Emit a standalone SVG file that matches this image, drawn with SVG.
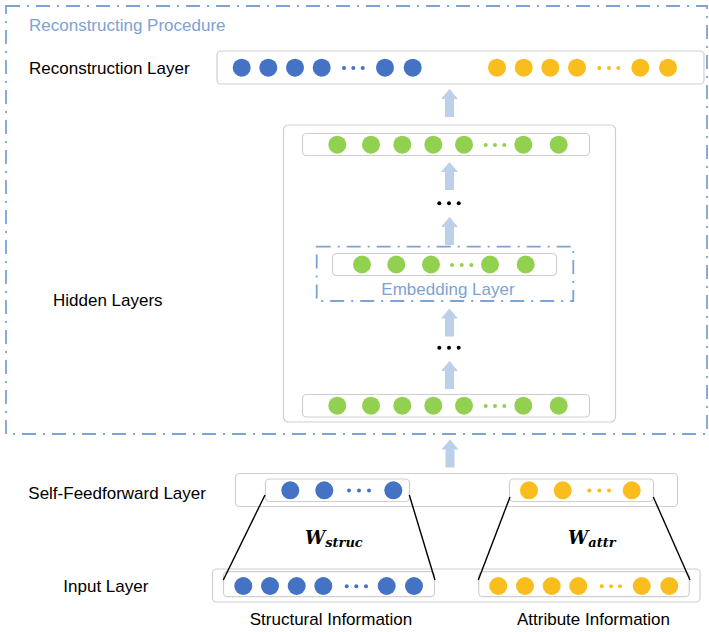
<svg xmlns="http://www.w3.org/2000/svg" width="709" height="632" viewBox="0 0 709 632">
<style>
.lbl{font-family:"Liberation Sans",Arial,sans-serif;font-size:17px;fill:#000}
.blue-t{fill:#7DA2D4}
.box{fill:#fff;stroke:#CFCFCF;stroke-width:1.2}
.dash{fill:none;stroke:#7DA2D4;stroke-width:1.8;stroke-dasharray:14 7 2 7}
.b{fill:#4472C4}
.y{fill:#F9BE1E}
.g{fill:#92D050}
.k{fill:#000}
.arr{fill:#BCD0EA}
.ln{stroke:#000;stroke-width:1.4;fill:none}
.w{font-family:"DejaVu Serif","Liberation Serif",serif;font-weight:bold;font-style:italic;fill:#000}
</style>
<defs>
<path id="arrow" d="M-8.5,10 L0,0 L8.5,10 L4.5,10 L4.5,28 L-4.5,28 L-4.5,10 Z"/>
</defs>

<g id="reconstructing-procedure">
<rect class="dash" x="6" y="6" width="701" height="428"/>
<text class="lbl blue-t" x="29" y="31">Reconstructing Procedure</text>
</g>

<g id="reconstruction-layer">
<text class="lbl" x="29" y="74">Reconstruction Layer</text>
<rect class="box" x="217" y="51" width="487" height="33" rx="4"/>
<circle class="b" cx="241.7" cy="67.7" r="9"/><circle class="b" cx="268.3" cy="67.7" r="9"/><circle class="b" cx="295" cy="67.7" r="9"/><circle class="b" cx="321.7" cy="67.7" r="9"/>
<circle class="b" cx="344" cy="68" r="2"/><circle class="b" cx="353.3" cy="68" r="2"/><circle class="b" cx="362.7" cy="68" r="2"/>
<circle class="b" cx="385" cy="67.7" r="9"/><circle class="b" cx="412.7" cy="67.7" r="9"/>
<circle class="y" cx="497" cy="67.7" r="9"/><circle class="y" cx="523.7" cy="67.7" r="9"/><circle class="y" cx="550.3" cy="67.7" r="9"/><circle class="y" cx="577" cy="67.7" r="9"/>
<circle class="y" cx="599.3" cy="68" r="2"/><circle class="y" cx="609" cy="68" r="2"/><circle class="y" cx="618.3" cy="68" r="2"/>
<circle class="y" cx="640.3" cy="67.7" r="9"/><circle class="y" cx="668" cy="67.7" r="9"/>
</g>

<g id="hidden-layers">
<text class="lbl" x="53" y="306">Hidden Layers</text>
<rect class="box" x="283.5" y="125" width="332" height="297" rx="5"/>
</g>

<g id="hidden-top">
<rect class="box" x="302.5" y="133.5" width="287" height="22" rx="4"/>
<circle class="g" cx="337.3" cy="144.7" r="9"/><circle class="g" cx="371" cy="144.7" r="9"/><circle class="g" cx="402.3" cy="144.7" r="9"/><circle class="g" cx="433.3" cy="144.7" r="9"/><circle class="g" cx="464" cy="144.7" r="9"/>
<circle class="g" cx="485.7" cy="145" r="2"/><circle class="g" cx="495" cy="145" r="2"/><circle class="g" cx="504.3" cy="145" r="2"/>
<circle class="g" cx="523.3" cy="144.7" r="9"/><circle class="g" cx="558.7" cy="144.7" r="9"/>
</g>

<g id="embedding-layer">
<rect class="dash" x="316.7" y="246.7" width="256.6" height="54.3"/>
<rect class="box" x="332.5" y="253.5" width="224" height="22" rx="4"/>
<circle class="g" cx="362" cy="264.5" r="9"/><circle class="g" cx="396.3" cy="264.5" r="9"/><circle class="g" cx="431" cy="264.5" r="9"/>
<circle class="g" cx="452" cy="265" r="2"/><circle class="g" cx="461.7" cy="265" r="2"/><circle class="g" cx="471.3" cy="265" r="2"/>
<circle class="g" cx="490" cy="264.5" r="9"/><circle class="g" cx="525.7" cy="264.5" r="9"/>
<text class="lbl blue-t" x="448" y="295" text-anchor="middle">Embedding Layer</text>
</g>

<g id="hidden-bottom">
<rect class="box" x="302.5" y="394.5" width="287" height="22.5" rx="4"/>
<circle class="g" cx="337.3" cy="405.7" r="9"/><circle class="g" cx="371" cy="405.7" r="9"/><circle class="g" cx="402.3" cy="405.7" r="9"/><circle class="g" cx="433.3" cy="405.7" r="9"/><circle class="g" cx="464" cy="405.7" r="9"/>
<circle class="g" cx="485.7" cy="406" r="2"/><circle class="g" cx="495" cy="406" r="2"/><circle class="g" cx="504.3" cy="406" r="2"/>
<circle class="g" cx="523.3" cy="405.7" r="9"/><circle class="g" cx="558.7" cy="405.7" r="9"/>
</g>

<g id="ellipses">
<circle class="k" cx="439.3" cy="203.3" r="2"/><circle class="k" cx="449" cy="203.3" r="2"/><circle class="k" cx="458.7" cy="203.3" r="2"/>
<circle class="k" cx="439.3" cy="347.7" r="2"/><circle class="k" cx="449" cy="347.7" r="2"/><circle class="k" cx="458.7" cy="347.7" r="2"/>
</g>

<g id="self-feedforward-layer">
<text class="lbl" x="28.3" y="498.5">Self-Feedforward Layer</text>
<rect class="box" x="235.5" y="473.5" width="442" height="33" rx="4"/>
<rect class="box" x="265.5" y="479" width="144" height="22.5" rx="4"/>
<circle class="b" cx="290.3" cy="490.3" r="9"/><circle class="b" cx="324.3" cy="490.3" r="9"/>
<circle class="b" cx="349" cy="490.5" r="2"/><circle class="b" cx="359" cy="490.5" r="2"/><circle class="b" cx="369" cy="490.5" r="2"/>
<circle class="b" cx="393.3" cy="490.3" r="9"/>
<rect class="box" x="509.5" y="479" width="144" height="22.5" rx="4"/>
<circle class="y" cx="529" cy="490.3" r="9"/><circle class="y" cx="562.7" cy="490.3" r="9"/>
<circle class="y" cx="589.3" cy="490.5" r="2"/><circle class="y" cx="599.3" cy="490.5" r="2"/><circle class="y" cx="609" cy="490.5" r="2"/>
<circle class="y" cx="631.7" cy="490.3" r="9"/>
</g>

<g id="input-layer">
<text class="lbl" x="63.3" y="591.7">Input Layer</text>
<rect class="box" x="212.5" y="569" width="487.5" height="33" rx="4"/>
<rect class="box" x="223.5" y="571.7" width="211" height="25" rx="4"/>
<circle class="b" cx="243.3" cy="586" r="9"/><circle class="b" cx="270" cy="586" r="9"/><circle class="b" cx="296.7" cy="586" r="9"/><circle class="b" cx="323.3" cy="586" r="9"/>
<circle class="b" cx="346.7" cy="586.3" r="2"/><circle class="b" cx="356.3" cy="586.3" r="2"/><circle class="b" cx="366" cy="586.3" r="2"/>
<circle class="b" cx="386.7" cy="586" r="9"/><circle class="b" cx="414" cy="586" r="9"/>
<rect class="box" x="478.7" y="571.7" width="210.5" height="25" rx="4"/>
<circle class="y" cx="498.3" cy="586" r="9"/><circle class="y" cx="525" cy="586" r="9"/><circle class="y" cx="551.7" cy="586" r="9"/><circle class="y" cx="578.3" cy="586" r="9"/>
<circle class="y" cx="601.7" cy="586.3" r="2"/><circle class="y" cx="611" cy="586.3" r="2"/><circle class="y" cx="620" cy="586.3" r="2"/>
<circle class="y" cx="641.7" cy="586" r="9"/><circle class="y" cx="669.3" cy="586" r="9"/>
<text class="lbl" x="331" y="625" text-anchor="middle">Structural Information</text>
<text class="lbl" x="593.5" y="625" text-anchor="middle">Attribute Information</text>
</g>

<g id="connectors">
<use href="#arrow" class="arr" x="449.5" y="89"/>
<use href="#arrow" class="arr" x="449.5" y="162"/>
<use href="#arrow" class="arr" x="449.5" y="217"/>
<use href="#arrow" class="arr" x="449.5" y="308.5"/>
<use href="#arrow" class="arr" x="449.5" y="361"/>
<use href="#arrow" class="arr" x="450" y="439.5"/>
<line class="ln" x1="265" y1="495" x2="223.3" y2="580"/>
<line class="ln" x1="409.3" y1="495" x2="435" y2="580"/>
<line class="ln" x1="510" y1="497" x2="478.3" y2="580"/>
<line class="ln" x1="653.3" y1="497" x2="690" y2="580"/>
<text class="w" x="305" y="543.5" font-size="18">W<tspan font-size="13" dy="3.5">struc</tspan></text>
<text class="w" x="568" y="543.5" font-size="18">W<tspan font-size="13" dy="3.5">attr</tspan></text>
</g>
</svg>
